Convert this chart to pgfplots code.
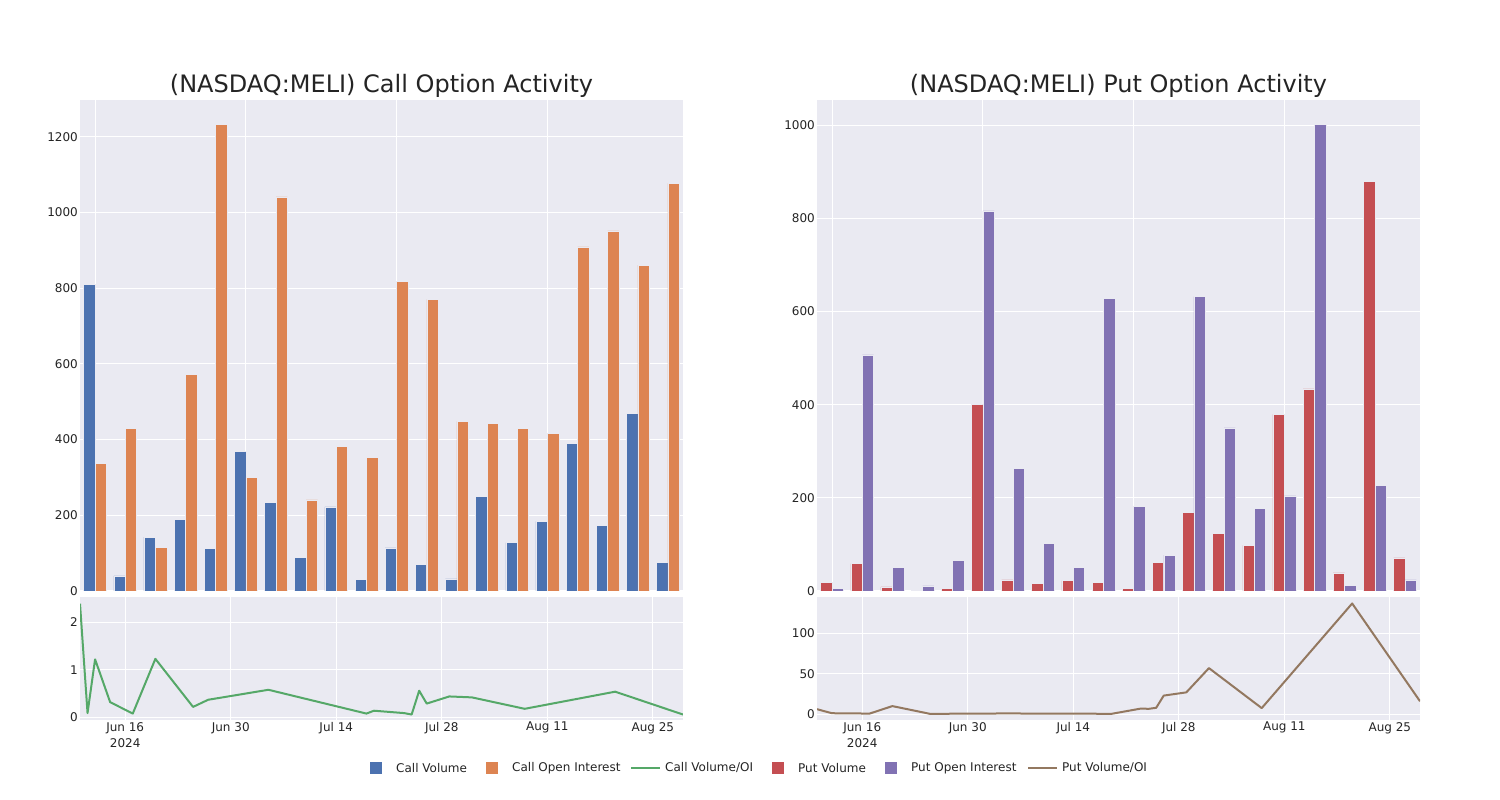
\documentclass[border=0pt]{standalone}
\usepackage{pgfplots}
\usepackage{pgfplotstable}
\pgfplotsset{compat=1.18}
\usepackage{fontspec}
\setmainfont{DejaVu Sans}
\definecolor{bgc}{RGB}{234,234,242}
\definecolor{txt}{RGB}{36,36,36}
\definecolor{cblue}{RGB}{76,114,176}
\definecolor{corange}{RGB}{221,132,82}
\definecolor{cgreen}{RGB}{85,168,104}
\definecolor{cred}{RGB}{196,78,82}
\definecolor{cpurple}{RGB}{129,114,179}
\definecolor{cbrown}{RGB}{147,120,96}

% bar groups 0..19
\pgfplotstableread{
x cv coi pv poi
0 810 337 19 5
1 40 429 59 507
2 142 116 9 51
3 189 572 1 11
4 112 1233 5 66
5 368 300 400 816
6 235 1041 24 263
7 89 241 16 102
8 222 383 22 51
9 31 352 19 628
10 114 818 5 181
11 70 770 61 77
12 32 448 168 632
13 250 442 124 350
14 128 429 98 177
15 184 416 379 204
16 389 909 434 1002
17 174 951 39 12
18 469 861 880 226
19 76 1077 71 24
}\bartab

% day number (June 1 = 1, July 1 = 31, Aug 1 = 62)
\pgfplotstableread{
d r
10 2.39
11 0.09
12 1.22
14 0.32
17 0.08
20 1.23
25 0.22
27 0.37
35 0.58
48 0.08
49 0.14
53 0.09
54 0.06
55 0.56
56 0.29
59 0.44
62 0.42
69 0.18
81 0.54
90 0.06
}\callline

\pgfplotstableread{
d r
10 6.2
11 3.6
12 1.2
14 0.9
17 0.8
20 10
25 0.4
27 0.5
35 0.9
48 0.5
49 0.3
53 7
54 6.6
55 7.9
56 23
59 27
62 57
69 7.5
81 137
90 16
}\putline

\pgfplotsset{
  base/.style={scale only axis, width=603pt, anchor=south west,
    axis background/.style={fill=bgc},
    axis line style={draw=none}, major tick length=0pt,
    grid=major, grid style={white, line width=1pt},
    tick label style={font=\fontsize{12}{16}\selectfont, text=txt},
    /pgf/number format/assume math mode=true,
    /pgf/number format/1000 sep={},
    yticklabel style={inner sep=1pt, xshift=-1pt},
    clip=true},
  barax/.style={base, height=491pt, xmin=-0.5, xmax=19.5, ymin=0,
    xtick={0,5,10,15}, xticklabels={}},
  lineax/.style={base, height=123pt, xmin=10, xmax=90,
    xtick={16,30,44,58,72,86},
    xticklabels={{Jun 16\\2024},{Jun 30},{Jul 14},{Jul 28},{Aug 11},{Aug 25}},
    xticklabel style={align=center, inner sep=2pt}},
  bb/.style={ybar, bar width=0.378, draw=bgc, line width=0.5pt}
}

\begin{document}
\begin{tikzpicture}
\path[use as bounding box] (0pt,0pt) rectangle (1500pt,800pt);

% ---- Call bars
\begin{axis}[barax, at={(80pt,209pt)}, ymax=1297, ytick={0,200,...,1200}]
\addplot[bb, fill=cblue, bar shift=-0.19] table[x=x,y=cv]{\bartab};
\addplot[bb, fill=corange, bar shift=0.19] table[x=x,y=coi]{\bartab};
\end{axis}
% ---- Call line
\begin{axis}[lineax, at={(80pt,80pt)}, ymin=-0.055, ymax=2.53, ytick={0,1,2}]
\addplot[cgreen, line width=2pt, line join=round] table[x=d,y=r]{\callline};
\end{axis}

% ---- Put bars
\begin{axis}[barax, at={(817pt,209pt)}, ymax=1054, ytick={0,200,...,1000}]
\addplot[bb, fill=cred, bar shift=-0.19] table[x=x,y=pv]{\bartab};
\addplot[bb, fill=cpurple, bar shift=0.19] table[x=x,y=poi]{\bartab};
\end{axis}
% ---- Put line
\begin{axis}[lineax, at={(817pt,80pt)}, ymin=-7.2, ymax=145, ytick={0,50,100}]
\addplot[cbrown, line width=2pt, line join=round] table[x=d,y=r]{\putline};
\end{axis}

% titles
\node[text=txt, font=\fontsize{24}{28}\selectfont] at (381.5pt,714pt) {(NASDAQ:MELI) Call Option Activity};
\node[text=txt, font=\fontsize{24}{28}\selectfont] at (1118.5pt,714pt) {(NASDAQ:MELI) Put Option Activity};

% legend
\begin{scope}[font=\fontsize{12}{14}\selectfont]
\fill[cblue] (370pt,26pt) rectangle (382pt,38pt);
\node[anchor=west, text=txt, inner sep=0pt] at (396pt,32pt) {Call Volume};
\fill[corange] (486pt,26pt) rectangle (498pt,38pt);
\node[anchor=west, text=txt, inner sep=0pt] at (512pt,32pt) {Call Open Interest};
\draw[cgreen, line width=2pt] (631pt,32pt) -- (660pt,32pt);
\node[anchor=west, text=txt, inner sep=0pt] at (665pt,32pt) {Call Volume/OI};
\fill[cred] (772pt,26pt) rectangle (784pt,38pt);
\node[anchor=west, text=txt, inner sep=0pt] at (798pt,32pt) {Put Volume};
\fill[cpurple] (885pt,26pt) rectangle (897pt,38pt);
\node[anchor=west, text=txt, inner sep=0pt] at (911pt,32pt) {Put Open Interest};
\draw[cbrown, line width=2pt] (1028pt,32pt) -- (1057pt,32pt);
\node[anchor=west, text=txt, inner sep=0pt] at (1062pt,32pt) {Put Volume/OI};
\end{scope}
\end{tikzpicture}
\end{document}
